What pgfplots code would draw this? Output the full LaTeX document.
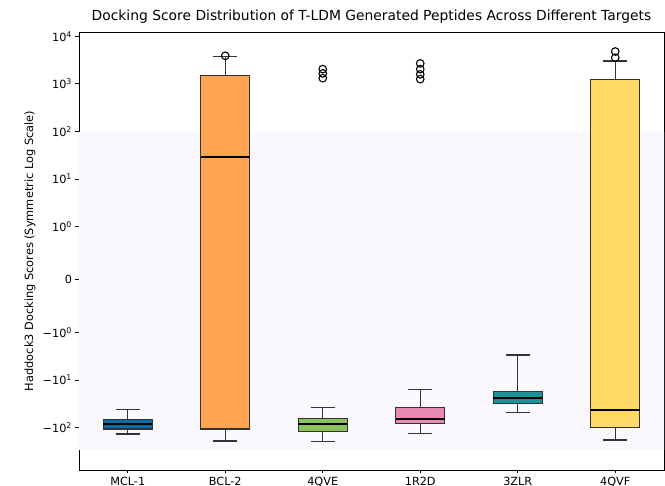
\documentclass[border=0pt]{standalone}
\usepackage{pgfplots}
\pgfplotsset{compat=1.18}
\usepgfplotslibrary{statistics}
\usepackage{fontspec}
\setmainfont{DejaVu Sans}
\usetikzlibrary{calc}
\definecolor{cblue}{HTML}{0A6EA6}
\definecolor{corange}{HTML}{FFA552}
\definecolor{cgreen}{HTML}{8CC060}
\definecolor{cpink}{HTML}{E88AB4}
\definecolor{cteal}{HTML}{1A9299}
\definecolor{cyellow}{HTML}{FFD966}
\definecolor{cshade}{HTML}{F8F8FE}
\definecolor{edge}{HTML}{333333}
\begin{document}
\begin{tikzpicture}
\begin{axis}[
  name=ax,
  scale only axis, width=585bp, height=438bp,
  xmin=-0.5, xmax=5.5, ymin=-4.0, ymax=5.2,
  xtick={0,1,2,3,4,5},
  xticklabels={MCL-1,BCL-2,4QVE,1R2D,3ZLR,4QVF},
  ytick={5.111,4.111,3.111,2.111,1.111,0,-1.111,-2.111,-3.111},
  yticklabels={10\textsuperscript{4},10\textsuperscript{3},10\textsuperscript{2},10\textsuperscript{1},10\textsuperscript{0},0,−10\textsuperscript{0},−10\textsuperscript{1},−10\textsuperscript{2}},
  tick align=outside, xtick pos=left, ytick pos=left,
  major tick length=3.5bp, minor tick num=0,
  tick style={black, line width=0.9bp},
  tick label style={font=\fontsize{11.3}{13}\selectfont},
  axis line style={black, line width=0.9bp},
  title={Docking Score Distribution of T-LDM Generated Peptides Across Different Targets},
  title style={font=\fontsize{13.9}{16}\selectfont, at={(axis description cs:0.5,1)}, anchor=south, yshift=-1bp},
  ylabel={Haddock3 Docking Scores (Symmetric Log Scale)},
  ylabel style={font=\fontsize{11.4}{13}\selectfont, at={(axis description cs:-0.0838,0.5)}, rotate=0, anchor=center},
  boxplot/draw direction=y,
  boxplot/box extend=0.5,
  boxplot/whisker extend=0.25,
  boxplot/every box/.style={draw=edge, line width=1.1bp},
  boxplot/every whisker/.style={draw=edge, line width=1.2bp},
  boxplot/every median/.style={draw=black, line width=1.8bp},
]
\addplot[fill=cshade, draw=none] coordinates {(-0.5,-3.58) (5.5,-3.58) (5.5,3.10) (-0.5,3.10)} \closedcycle;

\addplot[boxplot prepared={draw position=0, lower whisker=-3.246, lower quartile=-3.14, median=-3.036, upper quartile=-2.93, upper whisker=-2.735}, fill=cblue, draw=edge, mark=o] coordinates {};
\addplot[boxplot prepared={draw position=1, lower whisker=-3.39, lower quartile=-3.14, median=2.58, upper quartile=4.29, upper whisker=4.68}, fill=corange, draw=edge, mark=o, mark size=3.8bp, mark options={black, fill=none, line width=1.1bp}] table[row sep=\\, y index=0] {y\\ 4.70\\};
\addplot[boxplot prepared={draw position=2, lower whisker=-3.40, lower quartile=-3.20, median=-3.036, upper quartile=-2.916, upper whisker=-2.68}, fill=cgreen, draw=edge, mark=o, mark size=3.8bp, mark options={black, fill=none, line width=1.1bp}] table[row sep=\\, y index=0] {y\\ 4.42\\ 4.33\\ 4.23\\};
\addplot[boxplot prepared={draw position=3, lower whisker=-3.24, lower quartile=-3.03, median=-2.924, upper quartile=-2.685, upper whisker=-2.315}, fill=cpink, draw=edge, mark=o, mark size=3.8bp, mark options={black, fill=none, line width=1.1bp}] table[row sep=\\, y index=0] {y\\ 4.54\\ 4.42\\ 4.31\\ 4.21\\};
\addplot[boxplot prepared={draw position=4, lower whisker=-2.80, lower quartile=-2.594, median=-2.483, upper quartile=-2.357, upper whisker=-1.586}, fill=cteal, draw=edge, mark=o] coordinates {};
\addplot[boxplot prepared={draw position=5, lower whisker=-3.37, lower quartile=-3.113, median=-2.74, upper quartile=4.206, upper whisker=4.59}, fill=cyellow, draw=edge, mark=o, mark size=3.8bp, mark options={black, fill=none, line width=1.1bp}] table[row sep=\\, y index=0] {y\\ 4.79\\ 4.66\\};
\end{axis}
\pgfresetboundingbox
\useasboundingbox ($(ax.south west)+(-79bp,-16bp)$) rectangle ($(ax.north east)+(1bp,32bp)$);
\end{tikzpicture}
\end{document}
